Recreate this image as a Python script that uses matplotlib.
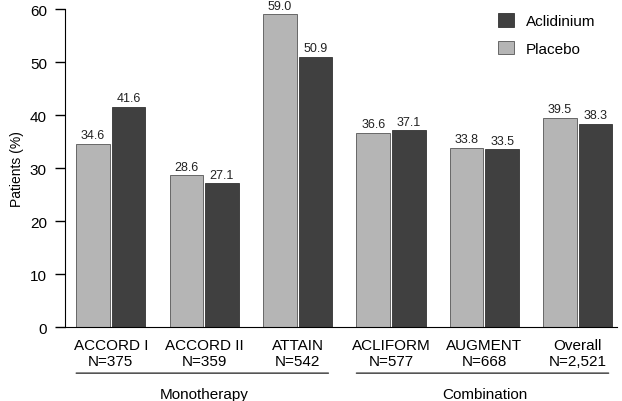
import numpy as np
import matplotlib.pyplot as plt

plt.rcParams['font.family'] = ['Liberation Sans', 'DejaVu Sans']

studies = ['ACCORD I', 'ACCORD II', 'ATTAIN', 'ACLIFORM', 'AUGMENT', 'Overall']
n_labels = ['N=375', 'N=359', 'N=542', 'N=577', 'N=668', 'N=2,521']
placebo = [34.6, 28.6, 59.0, 36.6, 33.8, 39.5]
aclidinium = [41.6, 27.1, 50.9, 37.1, 33.5, 38.3]
groups = ['Monotherapy', 'Combination']
group_spans = [(0, 2), (3, 5)]

fig = plt.figure(figsize=(6.22, 4.02), dpi=100)
ax = fig.add_axes([0.1045, 0.184, 0.8875, 0.791])

x = np.arange(len(studies))
w = 0.36
gap = 0.01
b1 = ax.bar(x - w / 2 - gap, placebo, w, color='#b5b5b5', edgecolor='#555555', linewidth=0.6, label='Placebo')
b2 = ax.bar(x + w / 2 + gap, aclidinium, w, color='#404040', edgecolor='#333333', linewidth=0.6, label='Aclidinium')
ax.bar_label(b1, fmt='%.1f', padding=2, fontsize=9, color='#222222')
ax.bar_label(b2, fmt='%.1f', padding=2, fontsize=9, color='#222222')

ax.set_xlim(-0.49, 5.42)
ax.set_ylim(0, 60)
ax.set_yticks(range(0, 61, 10))
ax.set_xticks(x)
ax.set_xticklabels([f'{s}\n{n}' for s, n in zip(studies, n_labels)], fontsize=11, linespacing=1.2)
ax.tick_params(axis='x', length=0, pad=8)
ax.tick_params(axis='y', labelsize=11, length=7, width=1, pad=6)
ax.set_ylabel('Patients (%)', fontsize=10)
ax.spines['top'].set_visible(False)
ax.spines['right'].set_visible(False)

# group brackets under the study labels
for name, (a, b) in zip(groups, group_spans):
    ax.annotate('', xy=(a - 0.4, -8.7), xytext=(b + 0.36, -8.7), xycoords='data',
                arrowprops=dict(arrowstyle='-', color='#333333', lw=1), annotation_clip=False)
    ax.text((a + b) / 2, -12.6, name, ha='center', va='center', fontsize=11, clip_on=False)

handles = [b2, b1]
ax.legend(handles, ['Aclidinium', 'Placebo'], loc='upper left', bbox_to_anchor=(0.76, 1.03),
          frameon=False, fontsize=11, handlelength=1.0, handleheight=1.0, labelspacing=0.8)

fig.savefig('out.png', dpi=100)
